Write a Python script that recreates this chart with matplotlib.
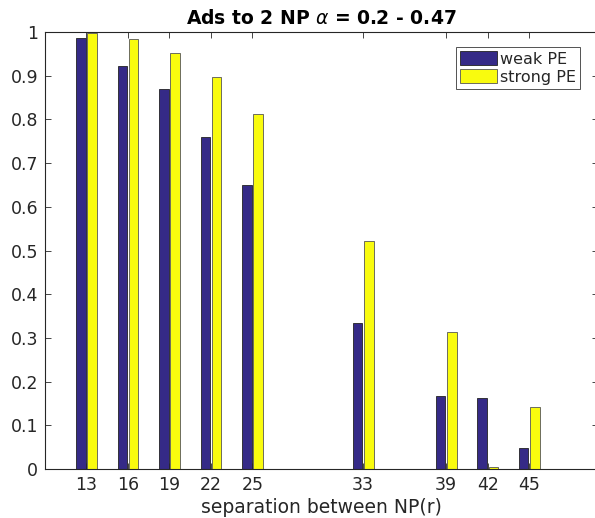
import matplotlib
matplotlib.use("Agg")
import matplotlib.pyplot as plt
import numpy as np

separation = [13, 16, 19, 22, 25, 33, 39, 42, 45]
weak_pe = [0.987, 0.922, 0.870, 0.760, 0.650, 0.335, 0.168, 0.163, 0.047]
strong_pe = [0.998, 0.985, 0.953, 0.897, 0.813, 0.523, 0.313, 0.004, 0.143]
series_labels = ["weak PE", "strong PE"]
yticks = [0, 0.1, 0.2, 0.3, 0.4, 0.5, 0.6, 0.7, 0.8, 0.9, 1]
ytick_labels = ["0", "0.1", "0.2", "0.3", "0.4", "0.5", "0.6", "0.7", "0.8", "0.9", "1"]

txt = "#262626"
plt.rcParams["font.family"] = ["DejaVu Sans"]

fig = plt.figure(figsize=(5.95, 5.18), dpi=100)
ax = fig.add_axes([0.0756, 0.0946, 0.930, 0.8434])

x = np.array(separation, dtype=float)
w = 0.68
ax.bar(x - 0.41, weak_pe, width=w, color="#352a87", edgecolor="#222222", linewidth=0.6, label=series_labels[0])
ax.bar(x + 0.41, strong_pe, width=w, color="#f9fb0e", edgecolor="#555555", linewidth=0.6, label=series_labels[1])

ax.set_xlim(10, 50)
ax.set_ylim(0, 1)
ax.set_xticks(separation)
ax.set_xticklabels([str(s) for s in separation])
ax.set_yticks(yticks)
ax.set_yticklabels(ytick_labels)
ax.tick_params(direction="in", length=4, width=0.6, colors=txt, labelsize=12.5,
               top=True, right=True, pad=5)
for s in ax.spines.values():
    s.set_color(txt)
    s.set_linewidth(0.8)
ax.spines["right"].set_visible(False)

ax.set_xlabel("separation between NP(r)", fontsize=13.5, color=txt, labelpad=3)
ax.set_title(r"Ads to 2 NP $\alpha$ = 0.2 - 0.47", fontsize=13.5, fontweight="bold", color="black", pad=6)

leg = ax.legend(loc="upper right", bbox_to_anchor=(0.967, 0.965), fontsize=11.5,
                frameon=True, fancybox=False, edgecolor="#262626", handlelength=2.3,
                handleheight=0.95, handletextpad=0.2, borderpad=0.25, labelspacing=0.15,
                borderaxespad=0.0)
leg.get_frame().set_linewidth(0.7)
for t in leg.get_texts():
    t.set_color(txt)

fig.savefig("out.png", dpi=100)
